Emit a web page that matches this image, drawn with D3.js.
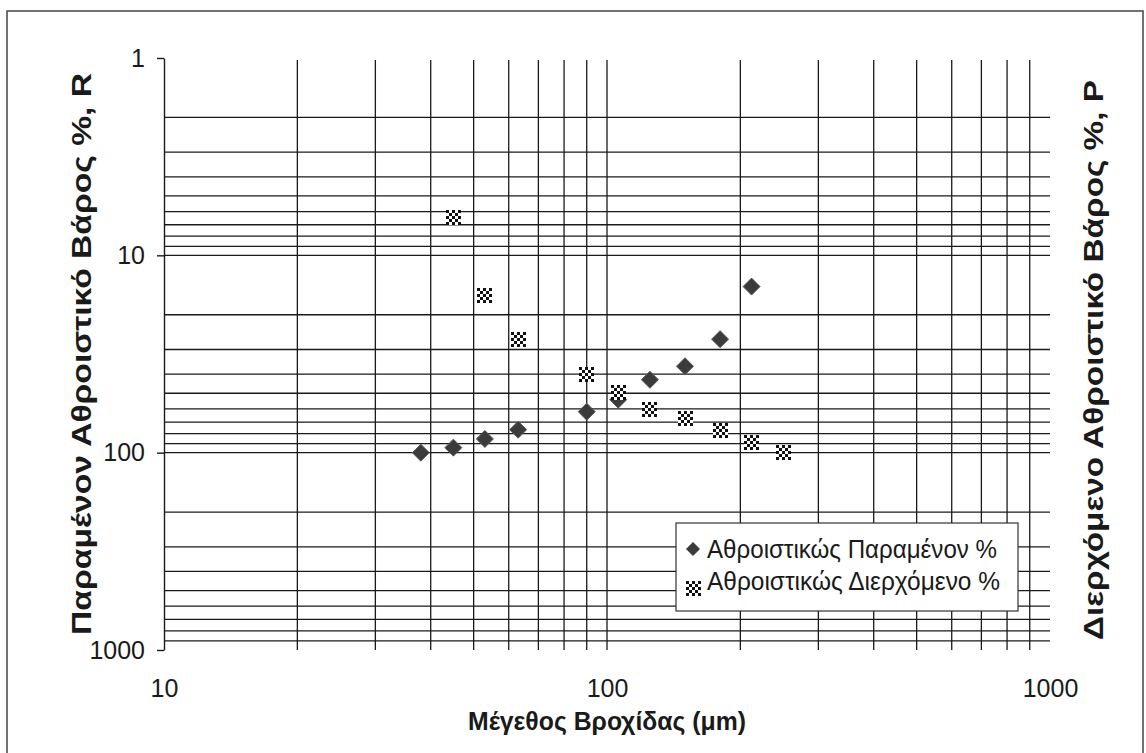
<!DOCTYPE html>
<html>
<head>
<meta charset="utf-8">
<script src="https://cdn.jsdelivr.net/npm/d3@7"></script>
<style>
  body { margin: 0; background: #fff; }
  text { font-family: "Liberation Sans", Arial, sans-serif; fill: #1a1a1a; }
</style>
</head>
<body>
<div id="chart"></div>
<script>
// sieve sizes (μm) and cumulative weights (%)
const sizes = [38, 45, 53, 63, 90, 106, 125, 150, 180, 212, 250];
const retained = [100, 94.3, 85.2, 76.5, 62, 53.9, 42.7, 36.5, 26.6, 14.4, null];
const passed = [null, 6.4, 16, 26.8, 40.3, 49.7, 60.1, 67.5, 77.1, 88.3, 100];

const yTicks = [1, 10, 100, 1000];
const xTicks = [10, 100, 1000];
const legendNames = ["Αθροιστικώς Παραμένον %", "Αθροιστικώς Διερχόμενο %"];

const width = 1146;
const height = 753;

const svg = d3.select("#chart")
  .append("svg")
  .attr("width", width)
  .attr("height", height);

// checkered fill for the passed series, tiled per marker
const defs = svg.append("defs");
const pat = defs.append("pattern")
  .attr("id", "checker")
  .attr("patternUnits", "objectBoundingBox")
  .attr("patternContentUnits", "objectBoundingBox")
  .attr("width", 0.4)
  .attr("height", 0.4);
pat.append("rect").attr("width", 0.4).attr("height", 0.4).attr("fill", "#fff");
pat.append("rect").attr("width", 0.2).attr("height", 0.2).attr("fill", "#111");
pat.append("rect").attr("x", 0.2).attr("y", 0.2).attr("width", 0.2).attr("height", 0.2).attr("fill", "#111");

// outer frame
svg.append("rect")
  .attr("x", 7).attr("y", 11)
  .attr("width", 1136).attr("height", 760)
  .attr("fill", "none")
  .attr("stroke", "#444")
  .attr("stroke-width", 1.5);

const x = d3.scaleLog().domain([10, 1000]).range([164, 1050]);
const y = d3.scaleLog().domain([1, 1000]).range([58, 650]);

// grid
const grid = svg.append("g").attr("stroke", "#1a1a1a").attr("stroke-width", 1.3);

grid.selectAll(".hline")
  .data(y.ticks().filter(d => d > 1 && d < 1000))
  .enter()
  .append("line")
  .attr("class", "hline")
  .attr("x1", 164).attr("x2", 1050)
  .attr("y1", d => y(d)).attr("y2", d => y(d));

grid.selectAll(".vline")
  .data(x.ticks().filter(d => d > 10 && d < 1000))
  .enter()
  .append("line")
  .attr("class", "vline")
  .attr("y1", 60).attr("y2", 650)
  .attr("x1", d => x(d)).attr("x2", d => x(d));

// left axis
const yAxis = svg.append("g")
  .attr("transform", "translate(164,0)")
  .call(d3.axisLeft(y).tickValues(yTicks).tickFormat(d3.format("d")).tickSize(7).tickSizeOuter(0).tickPadding(12));
yAxis.select(".domain").attr("stroke", "#1a1a1a").attr("stroke-width", 1.4);
yAxis.selectAll(".tick line").attr("stroke", "#1a1a1a").attr("stroke-width", 1.4);
yAxis.selectAll(".tick text")
  .attr("font-size", 25)
  .attr("font-family", "Liberation Sans, Arial, sans-serif")
  .attr("fill", "#1a1a1a");

// bottom labels
const xAxis = svg.append("g")
  .attr("transform", "translate(0,650)")
  .call(d3.axisBottom(x).tickValues(xTicks).tickFormat(d3.format("d")).tickSize(0).tickPadding(29));
xAxis.select(".domain").remove();
xAxis.selectAll(".tick text")
  .attr("font-size", 25)
  .attr("font-family", "Liberation Sans, Arial, sans-serif")
  .attr("fill", "#1a1a1a");

// axis titles
svg.append("text")
  .attr("x", 607).attr("y", 730)
  .attr("text-anchor", "middle")
  .attr("font-size", 26)
  .attr("font-weight", "bold")
  .attr("fill", "#2a2a2a")
  .attr("textLength", 278)
  .attr("lengthAdjust", "spacingAndGlyphs")
  .text("Μέγεθος Βροχίδας (μm)");

svg.append("text")
  .attr("transform", "translate(91,354) rotate(-90)")
  .attr("text-anchor", "middle")
  .attr("font-size", 27)
  .attr("font-weight", "bold")
  .attr("fill", "#2a2a2a")
  .attr("textLength", 562)
  .attr("lengthAdjust", "spacingAndGlyphs")
  .text("Παραμένον Αθροιστικό Βάρος %, R");

svg.append("text")
  .attr("transform", "translate(1103,360) rotate(-90)")
  .attr("text-anchor", "middle")
  .attr("font-size", 27)
  .attr("font-weight", "bold")
  .attr("fill", "#2a2a2a")
  .attr("textLength", 560)
  .attr("lengthAdjust", "spacingAndGlyphs")
  .text("Διερχόμενο Αθροιστικό Βάρος %, P");

// markers
const diamond = (cx, cy, r) => `M${cx},${cy - r}L${cx + r},${cy}L${cx},${cy + r}L${cx - r},${cy}Z`;

const retData = sizes.map((s, i) => ({ s, v: retained[i] })).filter(d => d.v != null);
const pasData = sizes.map((s, i) => ({ s, v: passed[i] })).filter(d => d.v != null);

svg.append("g").selectAll("path")
  .data(retData)
  .enter()
  .append("path")
  .attr("d", d => diamond(x(d.s), y(d.v), 8.5))
  .attr("fill", "#3b3b3b")
  .attr("stroke", "#5a5a5a")
  .attr("stroke-width", 1);

svg.append("g").selectAll("rect")
  .data(pasData)
  .enter()
  .append("rect")
  .attr("x", d => Math.round(x(d.s) - 7.5))
  .attr("y", d => Math.round(y(d.v) - 7.5))
  .attr("width", 15)
  .attr("height", 15)
  .attr("fill", "url(#checker)");

// legend
const legend = svg.append("g");
legend.append("rect")
  .attr("x", 676).attr("y", 523)
  .attr("width", 342).attr("height", 88)
  .attr("fill", "#fff")
  .attr("stroke", "#333")
  .attr("stroke-width", 1.2);

legend.append("path")
  .attr("d", diamond(693, 549, 7))
  .attr("fill", "#3b3b3b");
legend.append("rect")
  .attr("x", 686).attr("y", 581)
  .attr("width", 15).attr("height", 15)
  .attr("fill", "url(#checker)");

legend.selectAll(".ltext")
  .data(legendNames)
  .enter()
  .append("text")
  .attr("class", "ltext")
  .attr("x", 707)
  .attr("y", (d, i) => 558 + i * 32)
  .attr("font-size", 25)
  .attr("textLength", (d, i) => i === 0 ? 290 : 293)
  .attr("lengthAdjust", "spacingAndGlyphs")
  .text(d => d);
</script>
</body>
</html>
